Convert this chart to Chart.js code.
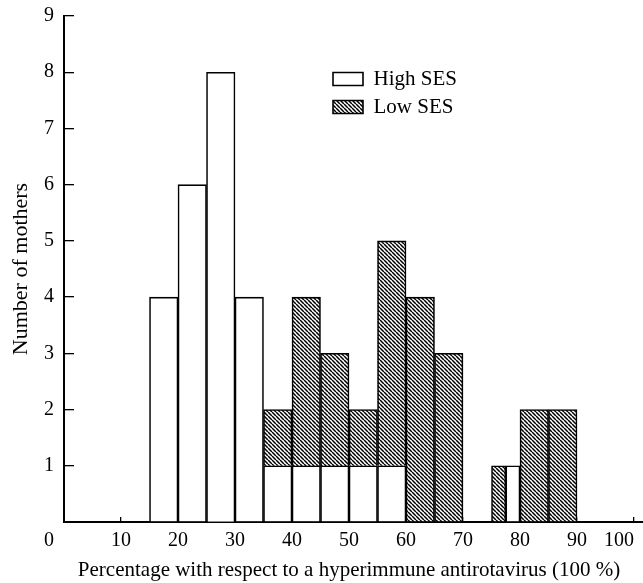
<!DOCTYPE html>
<html><head><meta charset="utf-8">
<script src="https://cdn.jsdelivr.net/npm/chart.js@4"></script>
<style>html,body{margin:0;padding:0;background:#fff}#wrap{width:643px;height:583px}</style>
</head><body><div id="wrap"><canvas id="c" width="643" height="583"></canvas></div>
<script>
// ---- data ----
const binWidth = 5;
const binStarts = [15,20,25,30,35,40,45,50,55,60,65,70,75,80,85];
const highSES   = [4,6,8,4,1,1,1,1,1,null,null,null,null,null,null];
const lowSES    = [null,null,null,null,1,3,2,1,4,4,3,null,null,2,2];
// the 75-80 bin is drawn split in two half-width bars
const splitWidth = 2.5;
const splitStarts = [75, 77.5];
const splitLow  = [1, null];
const splitHigh = [null, 1];
const xTicks = [0,10,20,30,40,50,60,70,80,90,100];
const yTicks = [0,1,2,3,4,5,6,7,8,9];
const xTitle = 'Percentage with respect to a hyperimmune antirotavirus (100 %)';
const yTitle = 'Number of mothers';

// ---- styles ----
const FAM = '"Liberation Serif", "DejaVu Serif", serif';
const FONT = {family:FAM, size:20};
function hatch(){
  const s=4, c=document.createElement('canvas'); c.width=s; c.height=s;
  const g=c.getContext('2d'); g.fillStyle='#fff'; g.fillRect(0,0,s,s);
  g.strokeStyle='#000'; g.lineWidth=1.5; g.beginPath();
  for (const k of [-s,0,s]) { g.moveTo(k,0); g.lineTo(k+s,s); }
  g.stroke();
  return g.createPattern(c,'repeat');
}
const HATCH = hatch();
const barBase = {borderColor:'#000', borderWidth:1.6, categoryPercentage:1, barPercentage:1, grouped:false};

const pts = (starts, w, vals) => starts.map((s,i)=>({x:s+w/2, y:vals[i]}));

const extras = {
  id:'extras',
  afterLayout(chart){
    const L = chart.legend, ca = chart.chartArea;
    if (L) { const w=L.width, h=L.height; L.left = ca.left + 262; L.top = ca.top + 45.5; L.right=L.left+w; L.bottom=L.top+h; }
  },
  afterDraw(chart){
    const ctx = chart.ctx, ca = chart.chartArea;
    ctx.save();
    ctx.strokeStyle='#000'; ctx.lineWidth=2;
    ctx.beginPath(); ctx.moveTo(ca.right, ca.bottom); ctx.lineTo(chart.width, ca.bottom); ctx.stroke();
    ctx.fillStyle='#000'; ctx.font = FONT.size+'px '+FAM;
    ctx.textAlign='center'; ctx.textBaseline='middle';
    ctx.fillText('0', ca.left - 15, ca.bottom + 18.5);
    ctx.restore();
  }
};

new Chart(document.getElementById('c'), {
  type:'bar',
  data:{ datasets:[
    Object.assign({label:'High SES', data:pts(binStarts,binWidth,highSES), backgroundColor:'#fff', xAxisID:'x', stack:'main'}, barBase),
    Object.assign({label:'Low SES', data:pts(binStarts,binWidth,lowSES), backgroundColor:HATCH, xAxisID:'x', stack:'main'}, barBase),
    Object.assign({label:'Low SES (split)', data:pts(splitStarts,splitWidth,splitLow), backgroundColor:HATCH, xAxisID:'x2', stack:'split'}, barBase),
    Object.assign({label:'High SES (split)', data:pts(splitStarts,splitWidth,splitHigh), backgroundColor:'#fff', xAxisID:'x2', stack:'split'}, barBase)
  ]},
  plugins:[extras],
  options:{
    responsive:false, animation:false, devicePixelRatio:1,
    layout:{padding:{top:16,right:9,left:0,bottom:0}},
    plugins:{
      tooltip:{enabled:false},
      legend:{
        position:'chartArea', align:'start',
        labels:{
          font:{family:FAM, size:21}, color:'#000', boxWidth:30, boxHeight:13, padding:7,
          filter:(item)=>item.datasetIndex<2
        }
      }
    },
    scales:{
      x:{
        type:'linear', min:0, max:100, stacked:true, position:'bottom', offset:false,
        afterBuildTicks:s=>{ s.ticks = xTicks.map(v=>({value:v})); },
        afterFit:s=>{ s.height=61; s.paddingLeft=0; s.paddingRight=0; },
        ticks:{ callback:v=> v===0 ? '' : String(v), font:FONT, color:'#000', padding:12, align:'inner', maxRotation:0, autoSkip:false },
        grid:{ offset:false, drawOnChartArea:false, drawTicks:true, tickLength:-5, color:'#000', lineWidth:1.3 },
        border:{ display:true, color:'#000', width:2 },
        title:{ display:true, text:xTitle, font:{family:FAM, size:21}, color:'#000', padding:{top:0,bottom:0} }
      },
      x2:{ type:'linear', min:0, max:100, stacked:true, display:false, offset:false, grid:{offset:false} },
      y:{
        type:'linear', min:0, max:9, stacked:true, position:'left',
        afterBuildTicks:s=>{ s.ticks = yTicks.map(v=>({value:v})); },
        afterFit:s=>{ s.width=64; s.paddingTop=0; s.paddingBottom=0; },
        ticks:{ callback:v=> v===0 ? '' : String(v), font:FONT, color:'#000', padding:20 },
        grid:{ drawOnChartArea:false, drawTicks:true, tickLength:-10, color:'#000', lineWidth:1.3 },
        border:{ display:true, color:'#000', width:2 },
        title:{ display:true, text:yTitle, font:{family:FAM, size:22}, color:'#000', padding:{top:8,bottom:0} }
      }
    }
  }
});
</script></body></html>
